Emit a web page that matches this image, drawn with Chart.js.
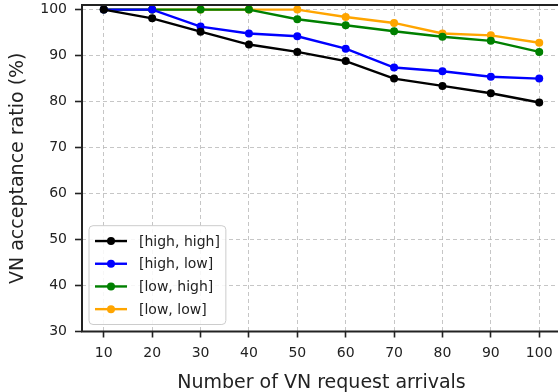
<!DOCTYPE html>
<html>
<head>
<meta charset="utf-8">
<script src="https://cdn.jsdelivr.net/npm/chart.js@4.4.0/dist/chart.umd.min.js"></script>
<style>
  html, body { margin: 0; padding: 0; background: #fff; overflow: hidden; }
  #wrap { width: 570px; height: 392px; }
</style>
</head>
<body>
<div id="wrap"><canvas id="chart" width="570" height="392"></canvas></div>
<script>
const arrivals = [10, 20, 30, 40, 50, 60, 70, 80, 90, 100];
const highHigh = [100, 98.1, 95.2, 92.4, 90.8, 88.8, 85.0, 83.4, 81.8, 79.8];
const highLow = [100, 100, 96.3, 94.8, 94.2, 91.5, 87.4, 86.6, 85.4, 85.0];
const lowHigh = [100, 100, 100, 100, 97.9, 96.6, 95.3, 94.1, 93.2, 90.8];
const lowLow = [100, 100, 100, 100, 100, 98.4, 97.1, 94.8, 94.4, 92.8];
const seriesNames = ["[high, high]", "[high, low]", "[low, high]", "[low, low]"];
const xTicks = [10, 20, 30, 40, 50, 60, 70, 80, 90, 100];
const yTicks = [30, 40, 50, 60, 70, 80, 90, 100];

const colors = ["#000000", "#0000ff", "#008000", "#ffa500"];
const font = "'DejaVu Sans', sans-serif";

const makeSet = (label, values, color) => ({
  label: label,
  data: arrivals.map((x, i) => ({ x: x, y: values[i] })),
  borderColor: color,
  backgroundColor: color,
  borderWidth: 2.4,
  pointRadius: 4,
  pointHoverRadius: 4,
  pointBorderWidth: 0,
  tension: 0,
});

// legend drawn inside the plot, lower left, like matplotlib
const boxLegend = {
  id: "boxLegend",
  afterDatasetsDraw(chart) {
    const ctx = chart.ctx;
    const area = chart.chartArea;
    const sets = chart.data.datasets;
    ctx.save();
    ctx.font = "14px " + font;
    const textW = Math.max(...sets.map((d) => ctx.measureText(d.label).width));
    const rowH = 22.7;
    const x0 = area.left + 7;
    const w = 50 + textW + 6;
    const h = sets.length * rowH + 8;
    const y0 = area.bottom - 7 - h;
    ctx.beginPath();
    ctx.roundRect(x0, y0, w, h, 4);
    ctx.fillStyle = "rgba(255,255,255,0.85)";
    ctx.fill();
    ctx.strokeStyle = "#cccccc";
    ctx.lineWidth = 1;
    ctx.stroke();
    sets.forEach((d, i) => {
      const cy = y0 + 4 + rowH / 2 + i * rowH;
      ctx.strokeStyle = d.borderColor;
      ctx.lineWidth = 2.4;
      ctx.beginPath();
      ctx.moveTo(x0 + 6, cy);
      ctx.lineTo(x0 + 38, cy);
      ctx.stroke();
      ctx.fillStyle = d.borderColor;
      ctx.beginPath();
      ctx.arc(x0 + 22, cy, 4, 0, Math.PI * 2);
      ctx.fill();
      ctx.fillStyle = "#222";
      ctx.textBaseline = "middle";
      ctx.textAlign = "left";
      ctx.fillText(d.label, x0 + 50, cy + 1);
    });
    ctx.restore();
  },
  afterDraw(chart) {
    // spines: left, bottom, top (right one falls outside the window)
    const ctx = chart.ctx;
    const a = chart.chartArea;
    ctx.save();
    ctx.strokeStyle = "#222";
    ctx.lineWidth = 2;
    ctx.setLineDash([]);
    ctx.beginPath();
    ctx.moveTo(a.right, a.top);
    ctx.lineTo(a.left, a.top);
    ctx.lineTo(a.left, a.bottom);
    ctx.lineTo(a.right, a.bottom);
    ctx.stroke();
    ctx.restore();
  },
};

const config = {
  type: "line",
  data: {
    datasets: [
      makeSet(seriesNames[0], highHigh, colors[0]),
      makeSet(seriesNames[1], highLow, colors[1]),
      makeSet(seriesNames[2], lowHigh, colors[2]),
      makeSet(seriesNames[3], lowLow, colors[3]),
    ],
  },
  options: {
    responsive: false,
    animation: false,
    layout: { padding: { top: 5, right: 9, left: 0, bottom: 0 } },
    plugins: { legend: { display: false }, tooltip: { enabled: false } },
    scales: {
      x: {
        type: "linear",
        min: 5.5,
        max: 104.5,
        afterBuildTicks: (s) => { s.ticks = xTicks.map((v) => ({ value: v })); },
        afterFit: (s) => { s.height = 60.5; s.paddingLeft = 0; s.paddingRight = 0; },
        grid: {
          color: "#b8b8b8",
          tickColor: "#222",
          tickBorderDash: [],
          tickLength: 6,
          tickWidth: 1.6,
          lineWidth: 0.8,
        },
        border: { display: false, dash: [4, 3] },
        ticks: { color: "#222", font: { family: font, size: 14 }, padding: 7, maxRotation: 0 },
        title: {
          display: true,
          text: "Number of VN request arrivals",
          color: "#222",
          font: { family: font, size: 19, lineHeight: 0.9 },
          padding: { top: 0, bottom: 0 },
        },
      },
      y: {
        min: 30,
        max: 101,
        afterBuildTicks: (s) => { s.ticks = yTicks.map((v) => ({ value: v })); },
        afterFit: (s) => { s.width = 82; s.paddingTop = 0; s.paddingBottom = 0; },
        grid: {
          color: "#b8b8b8",
          tickColor: "#222",
          tickBorderDash: [],
          tickLength: 7,
          tickWidth: 1.6,
          lineWidth: 0.8,
        },
        border: { display: false, dash: [4, 3] },
        ticks: { color: "#222", font: { family: font, size: 14 }, padding: 8 },
        title: {
          display: true,
          text: "VN acceptance ratio (%)",
          color: "#222",
          font: { family: font, size: 19 },
          padding: { top: 7, bottom: 0 },
        },
      },
    },
  },
  plugins: [boxLegend],
};

const acceptanceChart = new Chart(document.querySelector("#chart"), config);
</script>
</body>
</html>
